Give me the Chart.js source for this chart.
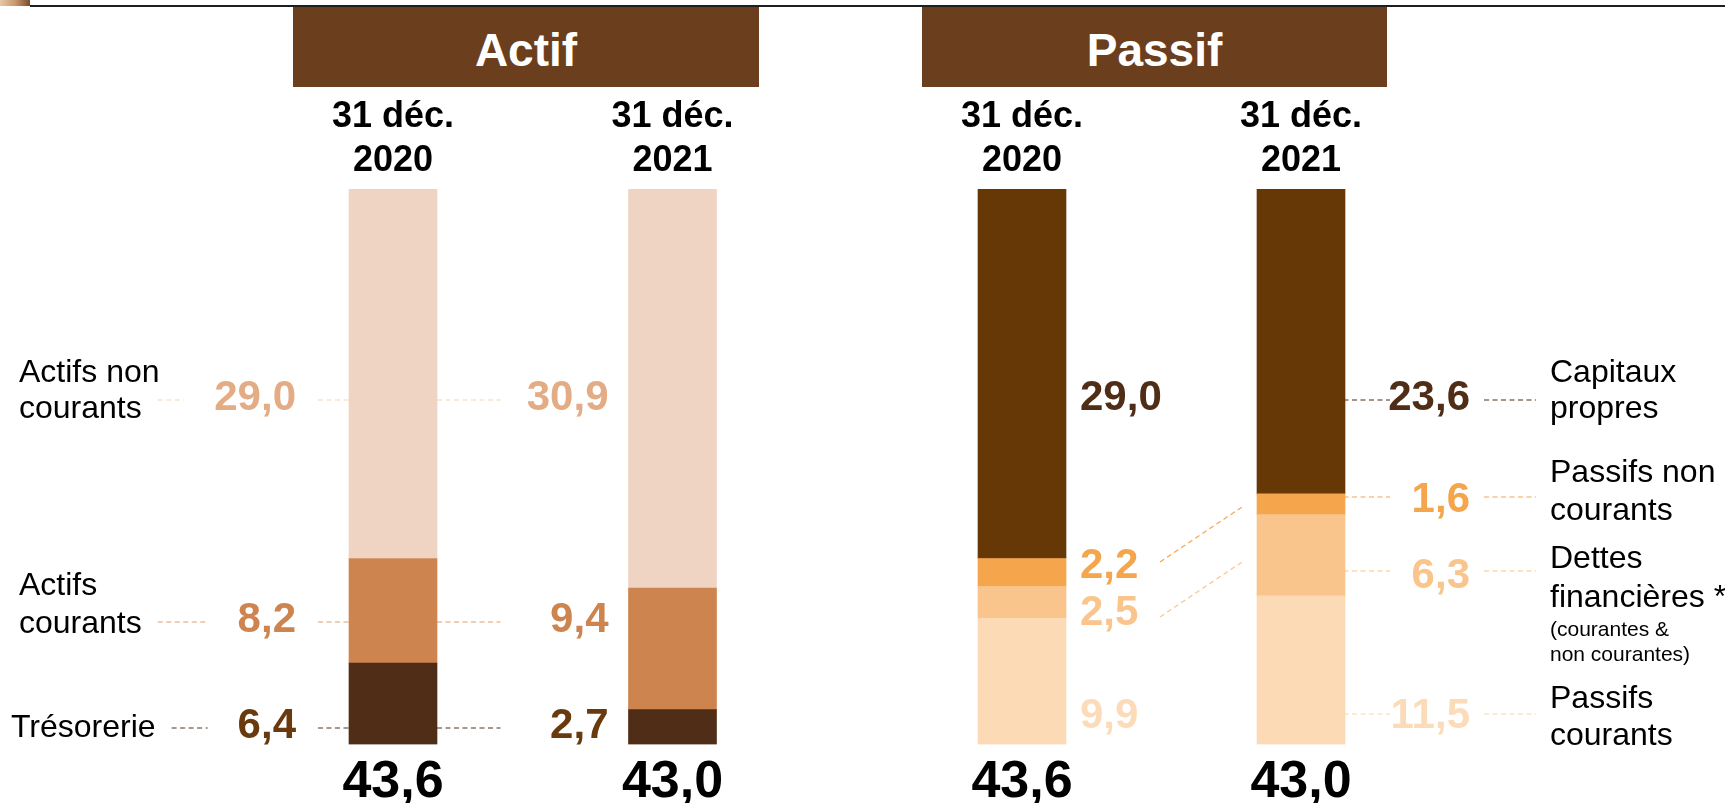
<!DOCTYPE html>
<html lang="fr">
<head>
<meta charset="utf-8">
<script src="https://cdn.jsdelivr.net/npm/chart.js@4.4.0/dist/chart.umd.min.js"></script>
<style>
  html, body { margin: 0; padding: 0; background: #fff; }
  body { width: 1725px; height: 803px; position: relative; overflow: hidden;
         font-family: "Liberation Sans", Arial, sans-serif; }
  canvas { position: absolute; left: 0; top: 0; }
  .corner { position: absolute; left: 0; top: 0; width: 30px; height: 6px;
            background: linear-gradient(90deg, #e6c9a6, #c99a6e 50%, #7e4a28); }
  .topline { position: absolute; left: 30px; top: 5px; right: 0; height: 2px; background: #1e1e1e; }
  .head { position: absolute; top: 7px; height: 80px; box-sizing: border-box; padding-top: 5px;
          background: #6B3E1E; color: #fff; font-weight: bold; font-size: 46px;
          display: flex; align-items: center; justify-content: center; }
</style>
</head>
<body>
<canvas id="actif" width="1725" height="803"></canvas>
<canvas id="passif" width="1725" height="803"></canvas>
<div class="corner"></div>
<div class="topline"></div>
<div class="head" style="left:293px;width:466px;">Actif</div>
<div class="head" style="left:922px;width:465px;">Passif</div>
<script>
// dates de clôture
const dates = [['31 déc.', '2020'], ['31 déc.', '2021']];

// Actif, du bas vers le haut de la barre
const tresorerie = [6.4, 2.7];
const actifsCourants = [8.2, 9.4];
const actifsNonCourants = [29.0, 30.9];

// Passif, du bas vers le haut de la barre
const passifsCourants = [9.9, 11.5];
const dettesFinancieres = [2.5, 6.3];
const passifsNonCourants = [2.2, 1.6];
const capitauxPropres = [29.0, 23.6];

const actifNames = [['Trésorerie'], ['Actifs', 'courants'], ['Actifs non', 'courants']];
const passifNames = [['Passifs', 'courants'], ['Dettes', 'financières *'], ['Passifs non', 'courants'], ['Capitaux', 'propres']];
const detteNote = ['(courantes &', 'non courantes)'];

const actifColors = ['#4F2D16', '#CE844E', '#EFD4C3'];
const actifTextColors = ['#683A0D', '#CE844E', '#E3AC84'];
const actifDashColors = ['#4a3220', '#E39E68', '#F8D3B0'];
const passifColors = ['#FCDAB5', '#F9C58C', '#F5A54B', '#663805'];
const passifTextColors = ['#FCDCB8', '#F9C58C', '#F5A54B', '#4F2D17'];
const passifDashColors = ['#FCD4AA', '#F9C58C', '#F5A54B', '#4F2D17'];

const FONT = '"Liberation Sans", Arial, sans-serif';
const fmt = v => v.toFixed(1).replace('.', ',');

function dash(ctx, x1, y1, x2, y2, color) {
  ctx.save();
  ctx.beginPath();
  ctx.setLineDash([5, 3.5]);
  ctx.lineWidth = 1.2;
  ctx.strokeStyle = color;
  ctx.moveTo(x1, y1);
  ctx.lineTo(x2, y2);
  ctx.stroke();
  ctx.restore();
}

function text(ctx, str, x, y, font, color, align) {
  ctx.font = font;
  ctx.fillStyle = color;
  ctx.textAlign = align || 'left';
  ctx.textBaseline = 'alphabetic';
  ctx.fillText(str, x, y);
}

// dates au-dessus et totaux sous chaque barre
function headersAndTotals(chart, totals) {
  const ctx = chart.ctx, xs = chart.scales.x;
  totals.forEach((t, i) => {
    const x = xs.getPixelForValue(i);
    text(ctx, dates[i][0], x, 127, 'bold 36px ' + FONT, '#000', 'center');
    text(ctx, dates[i][1], x, 171, 'bold 36px ' + FONT, '#000', 'center');
    text(ctx, fmt(t), x, 797, 'bold 52px ' + FONT, '#000', 'center');
  });
}

function makeChart(id, series, colors, padding, plugin) {
  const totals = dates.map((d, i) => series.reduce((s, a) => s + a[i], 0));
  return new Chart(document.getElementById(id), {
    type: 'bar',
    data: {
      labels: dates.map(d => d.join(' ')),
      datasets: series.map((s, k) => ({
        data: s.map((v, i) => v / totals[i] * 100),
        backgroundColor: colors[k],
        borderWidth: 0,
        barThickness: 88
      }))
    },
    options: {
      responsive: false,
      animation: false,
      layout: { padding: padding },
      plugins: { legend: { display: false }, tooltip: { enabled: false } },
      scales: {
        x: { stacked: true, display: false, offset: true },
        y: { stacked: true, display: false, min: 0, max: 100 }
      }
    },
    plugins: [plugin(totals)]
  });
}

// ----- Actif -----
const actifSeries = [tresorerie, actifsCourants, actifsNonCourants];
const actifValueBase = [738, 632, 410];
const actifDashY = [728, 622, 400];
const actifNameX = [11, 19, 19];
const actifNameBase = [[737], [595, 633], [382, 418]];

makeChart('actif', actifSeries, actifColors,
  { left: 253.25, right: 912.75, top: 189, bottom: 58.5 },
  totals => ({
    id: 'actifLabels',
    beforeDatasetsDraw(chart) {
      const ctx = chart.ctx, xs = chart.scales.x;
      const x0 = xs.getPixelForValue(0), x1 = xs.getPixelForValue(1);
      actifSeries.forEach((s, k) => {
        ctx.font = '32px ' + FONT;
        const lines = actifNames[k];
        const nameEnd = actifNameX[k] + ctx.measureText(lines[lines.length - 1]).width;
        ctx.font = 'bold 42px ' + FONT;
        const r0 = x0 - 97;
        const l0 = r0 - ctx.measureText(fmt(s[0])).width;
        dash(ctx, nameEnd + 16, actifDashY[k], l0 - 30, actifDashY[k], actifDashColors[k]);
        dash(ctx, r0 + 22, actifDashY[k], x1 - 172, actifDashY[k], actifDashColors[k]);
      });
    },
    afterDatasetsDraw(chart) {
      const ctx = chart.ctx, xs = chart.scales.x;
      const x0 = xs.getPixelForValue(0), x1 = xs.getPixelForValue(1);
      actifSeries.forEach((s, k) => {
        actifNames[k].forEach((ln, j) => text(ctx, ln, actifNameX[k], actifNameBase[k][j], '32px ' + FONT, '#000'));
        text(ctx, fmt(s[0]), x0 - 97, actifValueBase[k], 'bold 42px ' + FONT, actifTextColors[k], 'right');
        text(ctx, fmt(s[1]), x1 - 64, actifValueBase[k], 'bold 42px ' + FONT, actifTextColors[k], 'right');
      });
      headersAndTotals(chart, totals);
    }
  }));

// ----- Passif -----
const passifSeries = [passifsCourants, dettesFinancieres, passifsNonCourants, capitauxPropres];
const passif2020Base = [728, 625, 578, 410];
const passif2021Base = [728, 588, 512, 410];
const passifDashY = [714, 571, 497, 400];
const passifNameX = 1550;
const passifNameBase = [[708, 745], [568, 607], [482, 520], [382, 418]];
const noteBase = [636, 661];
// liens obliques depuis les valeurs 2020 vers les segments 2021
const links = [
  { k: 2, from: [1160, 562], to: [1242, 507] },
  { k: 1, from: [1160, 617], to: [1242, 562] }
];

makeChart('passif', passifSeries, passifColors,
  { left: 882.5, right: 284.5, top: 189, bottom: 58.5 },
  totals => ({
    id: 'passifLabels',
    beforeDatasetsDraw(chart) {
      const ctx = chart.ctx, xs = chart.scales.x;
      const x1 = xs.getPixelForValue(1);
      passifSeries.forEach((s, k) => {
        dash(ctx, x1, passifDashY[k], x1 + 89, passifDashY[k], passifDashColors[k]);
        dash(ctx, x1 + 183, passifDashY[k], passifNameX - 14, passifDashY[k], passifDashColors[k]);
      });
      links.forEach(l => dash(ctx, l.from[0], l.from[1], l.to[0], l.to[1], passifDashColors[l.k]));
    },
    afterDatasetsDraw(chart) {
      const ctx = chart.ctx, xs = chart.scales.x;
      const x0 = xs.getPixelForValue(0), x1 = xs.getPixelForValue(1);
      passifSeries.forEach((s, k) => {
        passifNames[k].forEach((ln, j) => text(ctx, ln, passifNameX, passifNameBase[k][j], '32px ' + FONT, '#000'));
        text(ctx, fmt(s[0]), x0 + 58, passif2020Base[k], 'bold 42px ' + FONT, passifTextColors[k], 'left');
        text(ctx, fmt(s[1]), x1 + 169, passif2021Base[k], 'bold 42px ' + FONT, passifTextColors[k], 'right');
      });
      detteNote.forEach((ln, j) => text(ctx, ln, passifNameX, noteBase[j], '21px ' + FONT, '#000'));
      headersAndTotals(chart, totals);
    }
  }));
</script>
</body>
</html>
